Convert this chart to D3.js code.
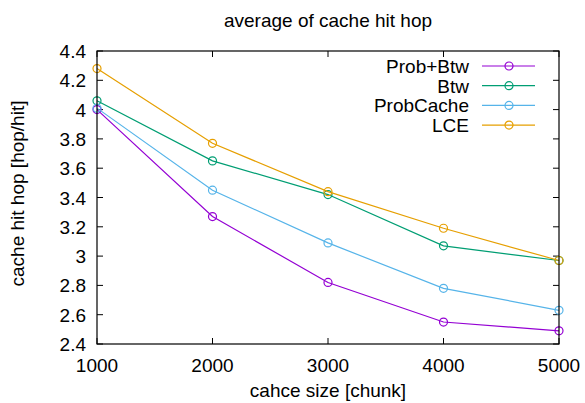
<!DOCTYPE html>
<html>
<head>
<meta charset="utf-8">
<script src="https://cdn.jsdelivr.net/npm/d3@7"></script>
<style>
  body { margin: 0; background: #fff; }
  text { font-family: "Liberation Sans", Arial, sans-serif; fill: #000; }
</style>
</head>
<body>
<div id="chart"></div>
<script>
const cacheSizes = [1000, 2000, 3000, 4000, 5000];
const seriesNames = ["Prob+Btw", "Btw", "ProbCache", "LCE"];
const probBtw = [4.00, 3.27, 2.82, 2.55, 2.49];
const btw = [4.06, 3.65, 3.42, 3.07, 2.97];
const probCache = [4.01, 3.45, 3.09, 2.78, 2.63];
const lce = [4.28, 3.77, 3.44, 3.19, 2.97];
const yTicks = [2.4, 2.6, 2.8, 3, 3.2, 3.4, 3.6, 3.8, 4, 4.2, 4.4];
const colors = ["#9400d3", "#009e73", "#56b4e9", "#e69f00"];

const width = 585;
const height = 403;
const margin = { top: 51, right: 26, bottom: 59, left: 97 };
const fontSize = "19px";

const svg = d3.select("#chart")
    .append("svg")
    .attr("width", width)
    .attr("height", height);

const x = d3.scaleLinear()
    .domain([1000, 5000])
    .range([margin.left, width - margin.right]);

const y = d3.scaleLinear()
    .domain([2.4, 4.4])
    .range([height - margin.bottom, margin.top]);

const x0 = margin.left, x1 = width - margin.right;
const y0 = height - margin.bottom, y1 = margin.top;
const tickLen = 6;

// ticks (inward, mirrored like gnuplot)
const ticks = svg.append("g").attr("stroke", "#000").attr("stroke-width", 1);
yTicks.forEach(t => {
    ticks.append("line").attr("x1", x0).attr("x2", x0 + tickLen).attr("y1", y(t)).attr("y2", y(t));
    ticks.append("line").attr("x1", x1).attr("x2", x1 - tickLen).attr("y1", y(t)).attr("y2", y(t));
});
cacheSizes.forEach(t => {
    ticks.append("line").attr("x1", x(t)).attr("x2", x(t)).attr("y1", y0).attr("y2", y0 - tickLen);
    ticks.append("line").attr("x1", x(t)).attr("x2", x(t)).attr("y1", y1).attr("y2", y1 + tickLen);
});

// tick labels
svg.append("g").selectAll("text")
    .data(yTicks)
    .enter()
    .append("text")
    .attr("x", x0 - 11)
    .attr("y", d => y(d) + 7)
    .attr("text-anchor", "end")
    .style("font-size", fontSize)
    .text(d => d3.format("~g")(d));

svg.append("g").selectAll("text")
    .data(cacheSizes)
    .enter()
    .append("text")
    .attr("x", d => x(d))
    .attr("y", y0 + 28)
    .attr("text-anchor", "middle")
    .style("font-size", fontSize)
    .text(d => d);

// lines and points
const allSeries = [probBtw, btw, probCache, lce];
const line = d3.line()
    .x((d, i) => x(cacheSizes[i]))
    .y(d => y(d));

allSeries.forEach((values, s) => {
    svg.append("path")
        .datum(values)
        .attr("fill", "none")
        .attr("stroke", colors[s])
        .attr("stroke-width", 1.2)
        .attr("d", line);
    svg.append("g").selectAll("circle")
        .data(values)
        .enter()
        .append("circle")
        .attr("cx", (d, i) => x(cacheSizes[i]))
        .attr("cy", d => y(d))
        .attr("r", 4)
        .attr("fill", "none")
        .attr("stroke", colors[s])
        .attr("stroke-width", 1.2);
});

// border
svg.append("rect")
    .attr("x", x0)
    .attr("y", y1)
    .attr("width", x1 - x0)
    .attr("height", y0 - y1)
    .attr("fill", "none")
    .attr("stroke", "#000")
    .attr("stroke-width", 1.2);

// legend
const legend = svg.append("g").attr("transform", "translate(469, 66)");
seriesNames.forEach((name, i) => {
    const row = legend.append("g").attr("transform", `translate(0, ${i * 19.7})`);
    row.append("text")
        .attr("x", 0)
        .attr("y", 7)
        .attr("text-anchor", "end")
        .style("font-size", fontSize)
        .text(name);
    row.append("line")
        .attr("x1", 13).attr("x2", 66).attr("y1", 0).attr("y2", 0)
        .attr("stroke", colors[i]).attr("stroke-width", 1.2);
    row.append("circle")
        .attr("cx", 40).attr("cy", 0).attr("r", 4)
        .attr("fill", "none").attr("stroke", colors[i]).attr("stroke-width", 1.2);
});

// titles
svg.append("text")
    .attr("x", (x0 + x1) / 2)
    .attr("y", 27)
    .attr("text-anchor", "middle")
    .style("font-size", fontSize)
    .text("average of cache hit hop");

svg.append("text")
    .attr("x", (x0 + x1) / 2)
    .attr("y", 397)
    .attr("text-anchor", "middle")
    .style("font-size", fontSize)
    .text("cahce size [chunk]");

svg.append("text")
    .attr("transform", `translate(24, ${(y0 + y1) / 2 - 4}) rotate(-90)`)
    .attr("text-anchor", "middle")
    .style("font-size", fontSize)
    .text("cache hit hop [hop/hit]");
</script>
</body>
</html>
